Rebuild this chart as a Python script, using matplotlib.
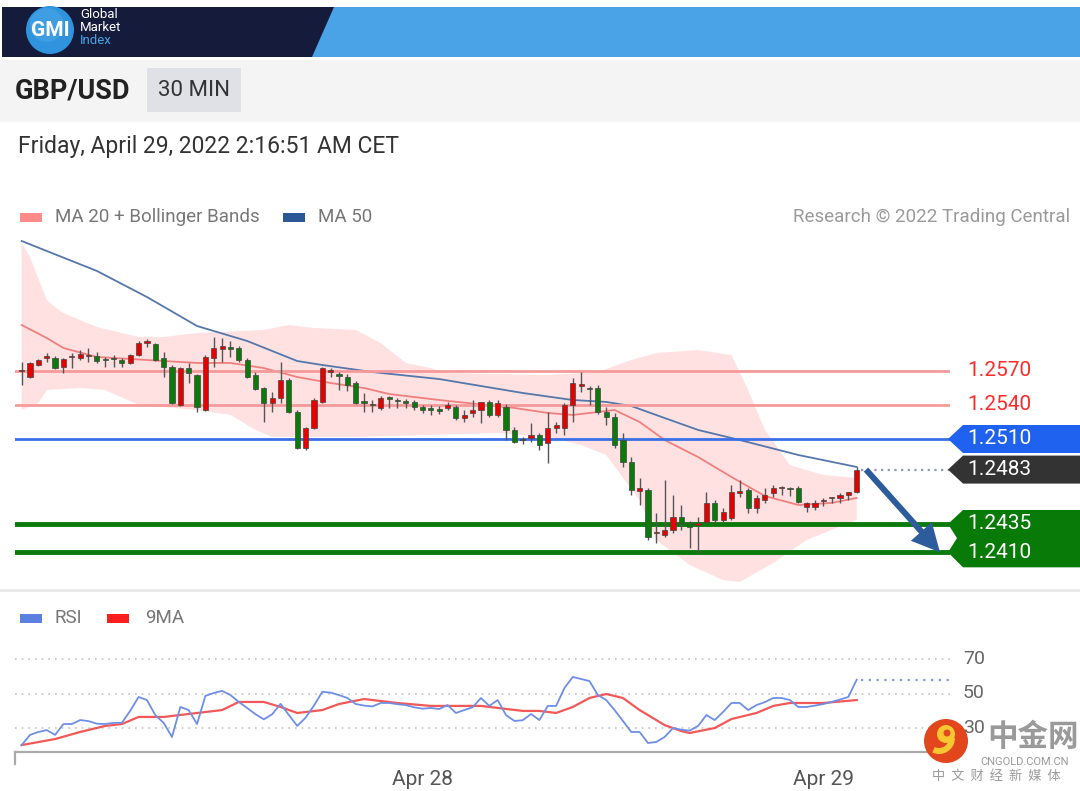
import matplotlib
matplotlib.use('Agg')
import matplotlib.pyplot as plt
import matplotlib.patches as mpatches
import numpy as np

plt.rcParams['font.family'] = ['Roboto', 'DejaVu Sans']

W, H = 1080, 791

# ---------------- data (30 min candles, Apr 27 00:00 -> Apr 29 02:00) ----------------
opens = [
    1.25700, 1.25647, 1.25753, 1.25819, 1.25815, 1.25735, 1.25824, 1.25815, 1.25832, 1.25832,
    1.25797, 1.25806, 1.25797, 1.25771, 1.25841, 1.25951, 1.25938, 1.25815, 1.25735, 1.25400,
    1.25726, 1.25665, 1.25356, 1.25815, 1.25894, 1.25903, 1.25903, 1.25797, 1.25665, 1.25550,
    1.25418, 1.25462, 1.25621, 1.25338, 1.25021, 1.25197, 1.25427, 1.25691, 1.25674, 1.25647,
    1.25594, 1.25431, 1.25404, 1.25374, 1.25466, 1.25440, 1.25431, 1.25427, 1.25382, 1.25369,
    1.25360, 1.25374, 1.25382, 1.25285, 1.25330, 1.25356, 1.25427, 1.25312, 1.25382, 1.25180,
    1.25096, 1.25109, 1.25136, 1.25065, 1.25197, 1.25197, 1.25400, 1.25572, 1.25546, 1.25550,
    1.25338, 1.25294, 1.25091, 1.24897, 1.24641, 1.24650, 1.24267, 1.24254, 1.24298, 1.24412,
    1.24359, 1.24341, 1.24368, 1.24536, 1.24386, 1.24403, 1.24624, 1.24650, 1.24492, 1.24562,
    1.24624, 1.24664, 1.24664, 1.24668, 1.24500, 1.24500, 1.24549, 1.24576, 1.24580, 1.24606,
    1.24633]
highs = [
    1.25779, 1.25779, 1.25806, 1.25859, 1.25832, 1.25815, 1.25859, 1.25885, 1.25903, 1.25868,
    1.25824, 1.25841, 1.25815, 1.25850, 1.25965, 1.25982, 1.25947, 1.25868, 1.25753, 1.25735,
    1.25771, 1.25674, 1.25841, 1.26000, 1.25991, 1.25965, 1.25921, 1.25815, 1.25691, 1.25559,
    1.25515, 1.25779, 1.25638, 1.25356, 1.25206, 1.25462, 1.25735, 1.25726, 1.25691, 1.25674,
    1.25612, 1.25506, 1.25444, 1.25479, 1.25479, 1.25462, 1.25453, 1.25444, 1.25400, 1.25400,
    1.25391, 1.25427, 1.25400, 1.25356, 1.25444, 1.25427, 1.25444, 1.25444, 1.25409, 1.25206,
    1.25118, 1.25241, 1.25153, 1.25338, 1.25250, 1.25418, 1.25638, 1.25691, 1.25568, 1.25576,
    1.25382, 1.25330, 1.25153, 1.24941, 1.24756, 1.24668, 1.24448, 1.24739, 1.24606, 1.24518,
    1.24377, 1.24412, 1.24633, 1.24562, 1.24492, 1.24694, 1.24739, 1.24668, 1.24606, 1.24668,
    1.24694, 1.24686, 1.24677, 1.24686, 1.24545, 1.24562, 1.24580, 1.24589, 1.24624, 1.24633,
    1.24853]
lows = [
    1.25576, 1.25638, 1.25744, 1.25779, 1.25718, 1.25682, 1.25726, 1.25797, 1.25779, 1.25771,
    1.25735, 1.25735, 1.25735, 1.25762, 1.25832, 1.25912, 1.25788, 1.25647, 1.25409, 1.25391,
    1.25594, 1.25338, 1.25347, 1.25735, 1.25779, 1.25824, 1.25779, 1.25638, 1.25532, 1.25250,
    1.25338, 1.25418, 1.25330, 1.25012, 1.25003, 1.25188, 1.25418, 1.25647, 1.25532, 1.25523,
    1.25409, 1.25338, 1.25338, 1.25356, 1.25374, 1.25374, 1.25374, 1.25356, 1.25330, 1.25312,
    1.25321, 1.25356, 1.25268, 1.25250, 1.25294, 1.25241, 1.25294, 1.25294, 1.25091, 1.25065,
    1.25056, 1.25074, 1.25003, 1.24889, 1.25153, 1.25136, 1.25250, 1.25515, 1.25400, 1.25321,
    1.25224, 1.25021, 1.24853, 1.24606, 1.24518, 1.24209, 1.24183, 1.24236, 1.24271, 1.24298,
    1.24139, 1.24095, 1.24359, 1.24359, 1.24359, 1.24386, 1.24589, 1.24448, 1.24448, 1.24536,
    1.24589, 1.24606, 1.24597, 1.24536, 1.24456, 1.24474, 1.24509, 1.24536, 1.24536, 1.24562,
    1.24624]
closes = [
    1.25709, 1.25771, 1.25797, 1.25824, 1.25726, 1.25806, 1.25828, 1.25850, 1.25837, 1.25788,
    1.25793, 1.25802, 1.25771, 1.25841, 1.25947, 1.25956, 1.25797, 1.25735, 1.25418, 1.25726,
    1.25682, 1.25382, 1.25824, 1.25903, 1.25921, 1.25898, 1.25797, 1.25647, 1.25541, 1.25418,
    1.25462, 1.25621, 1.25338, 1.25021, 1.25197, 1.25444, 1.25726, 1.25709, 1.25656, 1.25576,
    1.25418, 1.25422, 1.25396, 1.25462, 1.25457, 1.25431, 1.25422, 1.25382, 1.25356, 1.25360,
    1.25351, 1.25400, 1.25285, 1.25312, 1.25356, 1.25427, 1.25312, 1.25418, 1.25180, 1.25074,
    1.25087, 1.25136, 1.25047, 1.25197, 1.25224, 1.25400, 1.25594, 1.25585, 1.25537, 1.25338,
    1.25294, 1.25047, 1.24897, 1.24650, 1.24668, 1.24236, 1.24276, 1.24298, 1.24412, 1.24359,
    1.24324, 1.24359, 1.24536, 1.24386, 1.24456, 1.24633, 1.24641, 1.24492, 1.24580, 1.24606,
    1.24668, 1.24673, 1.24655, 1.24545, 1.24536, 1.24536, 1.24558, 1.24584, 1.24606, 1.24633,
    1.24830]

# moving averages / bands (candle index, price)
ma50_idx = [0, 9, 15, 21, 27, 33, 36, 42, 50, 60, 66, 70, 73, 77, 81, 86, 93, 100]
ma50_val = [1.26847, 1.26583, 1.26353, 1.26097, 1.25965, 1.25788, 1.25753, 1.25691, 1.25629,
            1.25506, 1.25444, 1.25427, 1.25391, 1.25285, 1.25180, 1.25091, 1.24959, 1.24853]

ma20_idx = [0, 3, 5, 9, 15, 21, 25, 29, 33, 37, 41, 44, 50, 59, 63, 66, 69, 71, 74, 77, 81,
            85, 89, 93, 97, 100]
ma20_val = [1.26106, 1.25991, 1.25903, 1.25824, 1.25797, 1.25771, 1.25771, 1.25726, 1.25647,
            1.25594, 1.25550, 1.25497, 1.25444, 1.25374, 1.25330, 1.25312, 1.25338, 1.25356,
            1.25250, 1.25091, 1.24941, 1.24765, 1.24597, 1.24518, 1.24536, 1.24580]

bb_up_idx = [0, 1, 3, 4, 5, 9, 14, 17, 21, 29, 32, 35, 40, 43, 46, 49, 51, 63, 69, 73, 76,
             81, 85, 87, 89, 92, 96, 100]
bb_up_val = [1.26830, 1.26706, 1.26327, 1.26265, 1.26212, 1.26088, 1.26000, 1.26000, 1.26035,
             1.26062, 1.26106, 1.26080, 1.26062, 1.25947, 1.25771, 1.25726, 1.25682, 1.25665,
             1.25691, 1.25797, 1.25859, 1.25885, 1.25841, 1.25532, 1.25180, 1.24870, 1.24782,
             1.24756]

bb_lo_idx = [0, 2, 3, 7, 10, 14, 21, 25, 28, 30, 40, 49, 57, 63, 67, 70, 74, 76, 80, 84, 86,
             90, 94, 100]
bb_lo_val = [1.25356, 1.25418, 1.25532, 1.25550, 1.25532, 1.25400, 1.25356, 1.25312, 1.25180,
             1.25118, 1.25118, 1.25136, 1.25153, 1.25118, 1.25047, 1.24959, 1.24561, 1.24209,
             1.23988, 1.23855, 1.23838, 1.24005, 1.24209, 1.24386]

# RSI (one value per candle) and its 9-period MA (read as vertices)
rsi = [
    20.1, 26.0, 27.7, 28.8, 26.0, 32.3, 32.3, 34.6, 34.0, 32.5,
    32.3, 33.0, 33.0, 40.0, 48.0, 46.2, 37.5, 33.0, 24.8, 42.2,
    40.4, 32.3, 48.6, 50.3, 51.5, 49.1, 45.1, 41.6, 38.0, 35.0,
    38.0, 44.0, 37.5, 31.2, 36.0, 43.0, 51.0, 50.5, 49.1, 47.4,
    43.9, 43.0, 42.5, 44.5, 44.5, 43.8, 43.3, 42.0, 41.2, 41.6,
    41.0, 43.3, 38.7, 40.4, 42.0, 47.4, 42.8, 46.2, 37.5, 34.1,
    34.5, 38.1, 34.6, 42.8, 42.8, 53.2, 59.6, 58.4, 57.2, 49.1,
    46.2, 40.4, 34.1, 27.7, 27.7, 21.3, 21.9, 24.8, 30.0, 29.0,
    28.5, 31.2, 37.5, 34.6, 39.3, 44.5, 44.5, 40.4, 43.3, 45.0,
    47.4, 47.4, 46.2, 42.2, 42.2, 43.0, 43.9, 45.1, 46.5, 48.0,
    58.0]
rsi_ma_idx = [0, 4, 7, 10, 12, 14, 17, 21, 24, 26, 29, 31, 33, 36, 38, 41, 45, 49, 55, 60, 62,
              64, 66, 68, 70, 72, 74, 77, 79, 80, 83, 85, 88, 90, 92, 96, 100]
rsi_ma_val = [20.1, 23.6, 27.7, 31.2, 32.3, 36.4, 36.4, 38.7, 40.4, 45.1, 45.1, 42.2, 38.7,
              40.4, 43.9, 46.8, 44.5, 42.8, 42.8, 39.9, 39.9, 38.7, 42.2, 47.4, 49.7, 47.4,
              40.4, 31.7, 28.2, 27.1, 30.0, 35.2, 38.7, 42.8, 44.5, 44.5, 46.2]

resist_levels = [1.2570, 1.2540]
pivot_level = 1.2510
last_price = 1.2483
support_levels = [1.2435, 1.2410]
rsi_levels = [70, 50, 30]
xtick_idx = [48, 96]
xtick_labels = ['Apr 28', 'Apr 29']

# ---------------- layout helpers (pixel based) ----------------
X_LO, X_HI = -0.8, 111.17
CJK = ['Noto Sans CJK SC', 'DejaVu Sans']


def px_axes(fig, x0, y0, x1, y1, z=1):
    a = fig.add_axes([x0 / W, 1 - y1 / H, (x1 - x0) / W, (y1 - y0) / H], zorder=z)
    a.set_facecolor('none')
    return a


fig = plt.figure(figsize=(W / 100, H / 100), dpi=100)
fig.patch.set_facecolor('white')

bg = px_axes(fig, 0, 0, W, H, z=0)
bg.set_xlim(0, W)
bg.set_ylim(H, 0)
bg.axis('off')

# header banner
bg.add_patch(mpatches.Polygon([(2, 7), (1080, 7), (1080, 57), (2, 57)], closed=True,
                              color='#4aa3e6', lw=0))
bg.add_patch(mpatches.Polygon([(2, 7), (334, 7), (312, 57), (2, 57)], closed=True,
                              color='#141b3b', lw=0))
bg.add_patch(mpatches.Circle((50, 30), 24, color='#2f93dd', lw=0))
bg.add_patch(mpatches.Circle((47, 25), 17, color='#5fb2ee', lw=0, alpha=0.35))
bg.text(50, 30, 'GMI', color='white', fontsize=15, fontweight='bold', ha='center', va='center')
bg.text(80, 14, 'Global', color='white', fontsize=9.5, va='center')
bg.text(80, 27.5, 'Market', color='white', fontsize=9.5, va='center')
bg.text(80, 41, 'Index', color='#4aa3e6', fontsize=9.5, va='center')

# title strip
bg.add_patch(mpatches.Rectangle((0, 60), W, 62, color='#f4f4f4', lw=0))
bg.text(15, 91, 'GBP/USD', color='#222222', fontsize=19.5, fontweight='bold', va='center')
bg.add_patch(mpatches.Rectangle((147, 68), 94, 44, color='#dfe1e6', lw=0))
bg.text(194, 90, '30 MIN', color='#333333', fontsize=16, ha='center', va='center')
bg.text(18, 147, 'Friday, April 29, 2022 2:16:51 AM CET', color='#333333', fontsize=16.5,
        va='center')

# legends
bg.add_patch(mpatches.Rectangle((20, 213), 22, 9, color='#ff8a8a', lw=0))
bg.text(55, 217, 'MA 20 + Bollinger Bands', color='#777777', fontsize=13.5, va='center')
bg.add_patch(mpatches.Rectangle((283, 213), 22, 9, color='#2b5797', lw=0))
bg.text(318, 217, 'MA 50', color='#777777', fontsize=13.5, va='center')
bg.text(1070, 217, 'Research \u00a9 2022 Trading Central', color='#9a9a9a', fontsize=13.5,
        ha='right', va='center')
bg.plot([0, W], [590, 590], color='#e8e8e8', lw=2)
bg.add_patch(mpatches.Rectangle((20, 614), 22, 9, color='#5b80e0', lw=0))
bg.text(55, 618, 'RSI', color='#777777', fontsize=13.5, va='center')
bg.add_patch(mpatches.Rectangle((107, 614), 22, 9, color='#ff1e1e', lw=0))
bg.text(145, 618, '9MA', color='#777777', fontsize=13.5, va='center')

# ---------------- price panel ----------------
ax = px_axes(fig, 15, 230, 950, 588)
P_TOP = 1.2570 + 141 / 11333.0
P_BOT = 1.2570 - 217 / 11333.0
ax.set_xlim(X_LO, X_HI)
ax.set_ylim(P_BOT, P_TOP)
ax.axis('off')

poly_x = list(bb_up_idx) + list(bb_lo_idx[::-1])
poly_y = list(bb_up_val) + list(bb_lo_val[::-1])
ax.fill(poly_x, poly_y, color='#ffdcdc', alpha=0.85, lw=0, zorder=1)
ax.plot(ma20_idx, ma20_val, color='#f08080', lw=1.3, zorder=2)
ax.plot(ma50_idx, ma50_val, color='#5577aa', lw=1.3, zorder=2)

for lv in resist_levels:
    ax.axhline(lv, color='#f59a9a', lw=2, zorder=2)
ax.axhline(pivot_level, color='#3a6fe8', lw=2, zorder=2)
for lv in support_levels:
    ax.axhline(lv, color='#0b7a0b', lw=3.5, zorder=2)

idx = np.arange(len(closes))
o = np.array(opens)
c = np.array(closes)
up = c >= o
body_lo = np.minimum(o, c)
body_h = np.maximum(np.abs(c - o), 0.00012)
ax.vlines(idx, lows, highs, color='#555555', lw=1, zorder=3)
ax.bar(idx[up], body_h[up], bottom=body_lo[up], width=0.62, color='#e60000',
       edgecolor='#444444', lw=0.5, zorder=4)
ax.bar(idx[~up], body_h[~up], bottom=body_lo[~up], width=0.62, color='#0b7a0b',
       edgecolor='#444444', lw=0.5, zorder=4)
ax.plot([idx[-1] + 0.5, X_HI], [last_price, last_price], color='#8a9bb0', lw=1.6,
        ls=(0, (1, 2)), zorder=2)

# ---------------- RSI panel ----------------
rx = px_axes(fig, 15, 640, 950, 752)
R_TOP = 70 + 19 / 1.725
R_BOT = 70 - 93 / 1.725
rx.set_xlim(X_LO, X_HI)
rx.set_ylim(R_BOT, R_TOP)
for s in ['top', 'right', 'left']:
    rx.spines[s].set_visible(False)
rx.spines['bottom'].set_color('#aaaaaa')
rx.spines['bottom'].set_linewidth(1.6)
for lv in rsi_levels:
    rx.axhline(lv, color='#c4c4c4', lw=1.2, ls=(0, (1, 3)), zorder=1)
rx.plot(idx, rsi, color='#6f8fe6', lw=1.3, zorder=3)
rx.plot(rsi_ma_idx, rsi_ma_val, color='#f23b3b', lw=1.6, alpha=0.85, zorder=2)
rx.plot([idx[-1] + 0.5, X_HI], [rsi[-1], rsi[-1]], color='#7f9be8', lw=1.6,
        ls=(0, (1, 2.5)), zorder=2)
rx.set_yticks([])
rx.set_xticks(xtick_idx)
rx.set_xticklabels(xtick_labels, color='#555555', fontsize=15)
rx.tick_params(axis='x', length=0, pad=13)

# ---------------- overlay: level tags, arrow, watermark ----------------
top = px_axes(fig, 0, 0, W, H, z=5)
top.set_xlim(0, W)
top.set_ylim(H, 0)
top.axis('off')
top.plot([15, 15], [752, 764], color='#aaaaaa', lw=1.6)


def price_y(p):
    return 371 + (1.2570 - p) * 11333.0


for lv in resist_levels:
    top.text(967, price_y(lv), f'{lv:.4f}', color='#ff2a2a', fontsize=15, va='center')


def tag(y, color, text):
    pts = [(948, y), (963, y - 14), (1080, y - 14), (1080, y + 14), (963, y + 14)]
    top.add_patch(mpatches.Polygon(pts, closed=True, color=color, lw=0))
    top.text(967, y, text, color='white', fontsize=15, va='center')


tag(price_y(pivot_level), '#1f62f0', f'{pivot_level:.4f}')
tag(price_y(last_price), '#333333', f'{last_price:.4f}')
y1, y2 = price_y(support_levels[0]), price_y(support_levels[1])
top.add_patch(mpatches.Polygon([(948, y1), (963, y1 - 14), (1080, y1 - 14), (1080, y2 + 15),
                                (963, y2 + 15), (948, y2), (957, (y1 + y2) / 2)],
                               closed=True, color='#087a08', lw=0))
for lv in support_levels:
    top.text(967, price_y(lv), f'{lv:.4f}', color='white', fontsize=15, va='center')

top.add_patch(mpatches.FancyArrow(866, price_y(last_price), 74, price_y(support_levels[1]) -
                                  price_y(last_price), width=6, head_width=28, head_length=28,
                                  length_includes_head=True, color='#2c5c9c', lw=0))

for lv in rsi_levels:
    top.text(963, 659 + (70 - lv) * 1.725, str(lv), color='#666666', fontsize=14, va='center')

# watermark logo (drawn as shapes)
top.add_patch(mpatches.Circle((946, 741), 22, color='#e2461c', lw=0))
top.add_patch(mpatches.Wedge((939, 738), 16, 0, 115, width=6, color='#f8c630', lw=0))
top.add_patch(mpatches.Circle((946, 734), 9, color='#f8c630', lw=0))
top.add_patch(mpatches.Circle((947, 733), 3.5, color='#e2461c', lw=0))
top.text(1033, 737, '中金网', color='#9a9a9a', fontsize=22, fontweight='bold', ha='center',
         va='center', family=CJK)
top.text(1025, 762, 'CNGOLD.COM.CN', color='#9a9a9a', fontsize=8, ha='center', va='center')
top.text(996, 776, '中  文  财  经  新  媒  体', color='#9a9a9a', fontsize=9.5, ha='center',
         va='center', family=CJK)

fig.savefig('out.png', dpi=100)
